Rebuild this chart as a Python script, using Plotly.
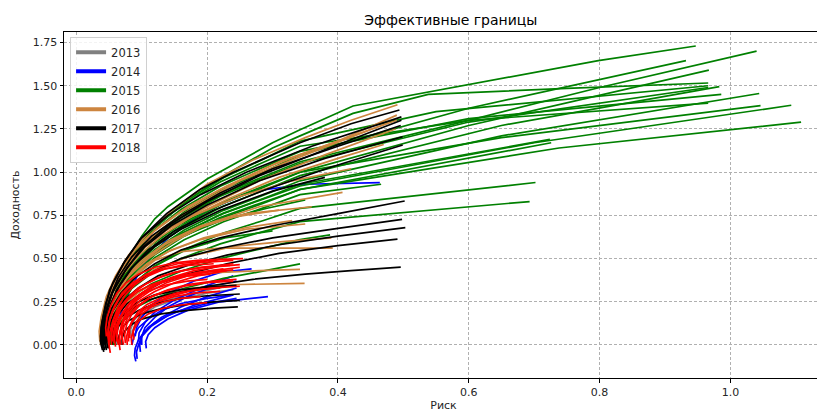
import plotly.graph_objects as go

years = ["2013", "2014", "2015", "2016", "2017", "2018"]
colors = ["#808080", "#0000ff", "#008000", "#cd853f", "#000000", "#ff0000"]

# ---- 2013 (gray) ----
risk_2013 = [
    [0.088, 0.086, 0.090, 0.100, 0.120, 0.150, 0.200, 0.240],
    [0.084, 0.083, 0.088, 0.100, 0.130, 0.180, 0.230],
]
ret_2013 = [
    [0.040, 0.080, 0.120, 0.170, 0.220, 0.260, 0.300, 0.320],
    [0.050, 0.090, 0.140, 0.200, 0.250, 0.300, 0.340],
]

# ---- 2014 (blue) ----
risk_2014 = [
    [0.091, 0.089, 0.090, 0.095, 0.105, 0.120, 0.150, 0.200, 0.245],
    [0.093, 0.092, 0.095, 0.100, 0.115, 0.140, 0.180, 0.240],
    [0.107, 0.106, 0.110, 0.120, 0.140, 0.170, 0.220, 0.293],
    [0.098, 0.097, 0.100, 0.110, 0.130, 0.160, 0.200, 0.245],
    [0.100, 0.100, 0.105, 0.120, 0.140, 0.170, 0.210, 0.245],
    [0.095, 0.096, 0.105, 0.120, 0.150, 0.190, 0.240],
    [0.090, 0.092, 0.100, 0.115, 0.140, 0.180, 0.220, 0.268],
    [0.060, 0.065, 0.080, 0.100, 0.140, 0.200, 0.270, 0.350, 0.464],
    [0.085, 0.088, 0.095, 0.110, 0.130, 0.160, 0.200, 0.240],
]
ret_2014 = [
    [-0.095, -0.060, -0.020, 0.030, 0.080, 0.130, 0.190, 0.240, 0.270],
    [-0.080, -0.040, 0.000, 0.050, 0.110, 0.170, 0.230, 0.290],
    [-0.020, 0.020, 0.060, 0.100, 0.150, 0.200, 0.250, 0.280],
    [-0.040, 0.000, 0.050, 0.100, 0.160, 0.220, 0.280, 0.330],
    [0.000, 0.050, 0.100, 0.160, 0.220, 0.280, 0.340, 0.370],
    [0.020, 0.070, 0.130, 0.190, 0.260, 0.330, 0.400],
    [0.050, 0.100, 0.160, 0.230, 0.300, 0.370, 0.420, 0.440],
    [0.050, 0.150, 0.300, 0.450, 0.620, 0.780, 0.890, 0.930, 0.940],
    [0.000, 0.050, 0.100, 0.150, 0.200, 0.240, 0.270, 0.290],
]

# ---- 2015 (green) ----
risk_2015 = [
    [0.050, 0.049, 0.054, 0.064, 0.080, 0.100, 0.120, 0.140, 0.200, 0.300, 0.342, 0.423, 0.798, 0.947],
    [0.052, 0.051, 0.056, 0.066, 0.082, 0.104, 0.130, 0.170, 0.230, 0.300, 0.342, 0.423, 0.538, 0.750, 0.966],
    [0.052, 0.050, 0.054, 0.065, 0.085, 0.115, 0.160, 0.220, 0.280, 0.342, 0.600, 0.800, 1.040],
    [0.058, 0.056, 0.060, 0.071, 0.090, 0.120, 0.165, 0.225, 0.285, 0.342, 0.600, 0.932],
    [0.052, 0.050, 0.054, 0.065, 0.085, 0.115, 0.160, 0.220, 0.280, 0.342, 0.600, 0.967],
    [0.058, 0.056, 0.060, 0.071, 0.090, 0.120, 0.165, 0.225, 0.285, 0.342, 0.550, 0.966],
    [0.052, 0.050, 0.054, 0.065, 0.085, 0.115, 0.160, 0.220, 0.280, 0.342, 0.600, 0.966],
    [0.058, 0.056, 0.060, 0.071, 0.090, 0.120, 0.165, 0.225, 0.285, 0.342, 0.650, 0.983],
    [0.052, 0.050, 0.054, 0.065, 0.085, 0.115, 0.160, 0.220, 0.280, 0.342, 0.600, 0.986],
    [0.058, 0.056, 0.060, 0.071, 0.090, 0.120, 0.165, 0.225, 0.285, 0.342, 0.650, 1.044],
    [0.058, 0.056, 0.060, 0.071, 0.090, 0.120, 0.165, 0.225, 0.285, 0.342, 0.650, 1.046],
    [0.052, 0.050, 0.054, 0.065, 0.085, 0.115, 0.160, 0.220, 0.280, 0.342, 0.700, 1.093],
    [0.058, 0.056, 0.060, 0.071, 0.090, 0.120, 0.165, 0.225, 0.285, 0.342, 0.738, 1.108],
    [0.052, 0.050, 0.054, 0.065, 0.085, 0.115, 0.160, 0.220, 0.280, 0.342, 0.600, 0.966],
    [0.058, 0.056, 0.060, 0.071, 0.090, 0.120, 0.165, 0.225, 0.285, 0.342, 0.724],
    [0.052, 0.050, 0.054, 0.065, 0.085, 0.115, 0.160, 0.220, 0.280, 0.342, 0.726],
    [0.058, 0.056, 0.060, 0.071, 0.090, 0.120, 0.165, 0.225, 0.285, 0.342, 0.702],
    [0.052, 0.050, 0.054, 0.065, 0.085, 0.115, 0.160, 0.220, 0.280, 0.342, 0.693],
    [0.058, 0.056, 0.060, 0.071, 0.090, 0.120, 0.165, 0.225, 0.285, 0.342, 0.466],
    [0.058, 0.056, 0.060, 0.071, 0.090, 0.120, 0.165, 0.225, 0.285, 0.342],
    [0.052, 0.050, 0.054, 0.065, 0.085, 0.115, 0.160, 0.220, 0.280, 0.342, 0.388],
    [0.060, 0.058, 0.062, 0.073, 0.092, 0.122, 0.167, 0.227, 0.300],
    [0.055, 0.053, 0.057, 0.068, 0.087, 0.117, 0.162, 0.222, 0.290, 0.350],
]
ret_2015 = [
    [0.000, 0.100, 0.220, 0.360, 0.500, 0.630, 0.730, 0.800, 0.960, 1.170, 1.245, 1.383, 1.645, 1.730],
    [0.000, 0.100, 0.210, 0.340, 0.470, 0.600, 0.710, 0.840, 0.990, 1.140, 1.210, 1.340, 1.450, 1.485, 1.516],
    [0.000, 0.085, 0.190, 0.339, 0.488, 0.615, 0.742, 0.869, 0.965, 1.060, 1.300, 1.490, 1.700],
    [0.000, 0.088, 0.198, 0.352, 0.506, 0.638, 0.770, 0.902, 1.000, 1.100, 1.370, 1.645],
    [0.000, 0.080, 0.180, 0.320, 0.460, 0.580, 0.700, 0.820, 0.910, 1.000, 1.270, 1.590],
    [0.000, 0.094, 0.212, 0.378, 0.543, 0.684, 0.826, 0.968, 1.074, 1.180, 1.350, 1.500],
    [0.000, 0.084, 0.189, 0.336, 0.483, 0.609, 0.735, 0.861, 0.956, 1.050, 1.290, 1.490],
    [0.000, 0.078, 0.176, 0.314, 0.451, 0.568, 0.686, 0.804, 0.892, 0.980, 1.270, 1.495],
    [0.000, 0.090, 0.200, 0.360, 0.515, 0.650, 0.784, 0.918, 1.019, 1.120, 1.310, 1.450],
    [0.000, 0.076, 0.171, 0.304, 0.437, 0.551, 0.665, 0.779, 0.865, 0.950, 1.210, 1.455],
    [0.000, 0.080, 0.180, 0.320, 0.460, 0.580, 0.700, 0.820, 0.910, 1.000, 1.200, 1.385],
    [0.000, 0.074, 0.166, 0.294, 0.423, 0.534, 0.644, 0.754, 0.837, 0.920, 1.170, 1.387],
    [0.000, 0.072, 0.162, 0.288, 0.414, 0.522, 0.630, 0.738, 0.819, 0.900, 1.140, 1.289],
    [0.000, 0.092, 0.207, 0.368, 0.529, 0.667, 0.805, 0.943, 1.047, 1.150, 1.300, 1.400],
    [0.000, 0.074, 0.167, 0.298, 0.428, 0.539, 0.651, 0.763, 0.846, 0.930, 1.190],
    [0.000, 0.072, 0.162, 0.288, 0.414, 0.522, 0.630, 0.738, 0.819, 0.900, 1.170],
    [0.000, 0.063, 0.142, 0.253, 0.363, 0.458, 0.553, 0.648, 0.719, 0.790, 0.940],
    [0.000, 0.057, 0.129, 0.228, 0.328, 0.414, 0.500, 0.585, 0.650, 0.714, 0.830],
    [0.000, 0.070, 0.157, 0.278, 0.400, 0.505, 0.609, 0.713, 0.792, 0.870, 0.930],
    [0.000, 0.038, 0.084, 0.150, 0.216, 0.272, 0.328, 0.385, 0.427, 0.469],
    [0.000, 0.049, 0.110, 0.195, 0.281, 0.354, 0.427, 0.500, 0.555, 0.610, 0.637],
    [0.000, 0.070, 0.150, 0.260, 0.370, 0.460, 0.550, 0.620, 0.660],
    [0.000, 0.075, 0.170, 0.300, 0.420, 0.530, 0.630, 0.720, 0.790, 0.840],
]

# ---- 2016 (peru) ----
risk_2016 = [
    [0.036, 0.035, 0.038, 0.046, 0.060, 0.080, 0.110, 0.150, 0.200, 0.270, 0.350, 0.420, 0.491],
    [0.037, 0.037, 0.041, 0.050, 0.065, 0.090, 0.120, 0.160, 0.220, 0.300, 0.400, 0.490],
    [0.040, 0.040, 0.045, 0.056, 0.075, 0.100, 0.140, 0.200, 0.280, 0.380, 0.488],
    [0.045, 0.045, 0.050, 0.062, 0.080, 0.110, 0.150, 0.200, 0.280, 0.407],
    [0.048, 0.048, 0.055, 0.068, 0.090, 0.120, 0.170, 0.240, 0.320, 0.390],
    [0.055, 0.056, 0.063, 0.078, 0.100, 0.130, 0.170, 0.220, 0.280, 0.342],
    [0.060, 0.060, 0.067, 0.080, 0.100, 0.130, 0.180, 0.250, 0.349],
    [0.038, 0.038, 0.043, 0.053, 0.070, 0.095, 0.130, 0.180, 0.250, 0.350, 0.480],
    [0.042, 0.042, 0.047, 0.058, 0.075, 0.100, 0.140, 0.190, 0.260, 0.360],
    [0.045, 0.045, 0.050, 0.062, 0.080, 0.105, 0.140, 0.190, 0.260, 0.350],
    [0.040, 0.040, 0.044, 0.054, 0.070, 0.095, 0.130, 0.180, 0.250, 0.330, 0.420],
    [0.039, 0.039, 0.043, 0.052, 0.068, 0.090, 0.125, 0.170, 0.230, 0.310, 0.400, 0.490],
    [0.050, 0.050, 0.056, 0.070, 0.090, 0.120, 0.160, 0.220, 0.300, 0.392],
    [0.043, 0.043, 0.048, 0.059, 0.076, 0.100, 0.135, 0.180, 0.240, 0.310],
    [0.047, 0.047, 0.052, 0.064, 0.082, 0.108, 0.145, 0.195, 0.260, 0.330],
    [0.041, 0.041, 0.046, 0.056, 0.072, 0.096, 0.130, 0.175, 0.235, 0.310, 0.400, 0.470],
]
ret_2016 = [
    [0.020, 0.080, 0.160, 0.280, 0.400, 0.520, 0.650, 0.790, 0.930, 1.070, 1.200, 1.300, 1.390],
    [0.000, 0.080, 0.170, 0.300, 0.420, 0.550, 0.660, 0.770, 0.900, 1.040, 1.180, 1.300],
    [0.020, 0.100, 0.200, 0.320, 0.440, 0.550, 0.670, 0.800, 0.950, 1.100, 1.250],
    [0.030, 0.100, 0.200, 0.300, 0.400, 0.500, 0.600, 0.700, 0.800, 0.883],
    [0.020, 0.100, 0.180, 0.270, 0.360, 0.440, 0.510, 0.570, 0.600, 0.620],
    [0.030, 0.100, 0.170, 0.250, 0.320, 0.370, 0.400, 0.420, 0.430, 0.438],
    [0.020, 0.080, 0.140, 0.200, 0.260, 0.300, 0.330, 0.350, 0.357],
    [0.030, 0.100, 0.200, 0.310, 0.430, 0.550, 0.670, 0.800, 0.950, 1.100, 1.290],
    [0.020, 0.100, 0.190, 0.290, 0.390, 0.490, 0.600, 0.690, 0.760, 0.800],
    [0.000, 0.080, 0.170, 0.270, 0.370, 0.460, 0.540, 0.610, 0.670, 0.700],
    [0.000, 0.090, 0.190, 0.300, 0.420, 0.540, 0.650, 0.750, 0.860, 0.950, 1.020],
    [0.010, 0.100, 0.200, 0.320, 0.440, 0.560, 0.680, 0.800, 0.920, 1.060, 1.180, 1.330],
    [0.050, 0.120, 0.200, 0.300, 0.400, 0.490, 0.540, 0.560, 0.560, 0.560],
    [0.010, 0.090, 0.180, 0.280, 0.380, 0.480, 0.580, 0.670, 0.740, 0.780],
    [0.020, 0.100, 0.190, 0.290, 0.380, 0.470, 0.550, 0.620, 0.680, 0.720],
    [0.000, 0.090, 0.190, 0.300, 0.410, 0.520, 0.630, 0.740, 0.850, 0.970, 1.080, 1.160],
]

# ---- 2017 (black) ----
risk_2017 = [
    [0.040, 0.037, 0.038, 0.042, 0.051, 0.072, 0.097, 0.138, 0.189, 0.240, 0.342, 0.420, 0.494],
    [0.042, 0.039, 0.040, 0.045, 0.055, 0.075, 0.100, 0.140, 0.200, 0.280, 0.380, 0.497],
    [0.041, 0.039, 0.041, 0.047, 0.058, 0.078, 0.105, 0.145, 0.200, 0.280, 0.380, 0.499],
    [0.043, 0.041, 0.043, 0.050, 0.062, 0.083, 0.110, 0.150, 0.210, 0.290, 0.390, 0.499],
    [0.039, 0.037, 0.039, 0.045, 0.056, 0.075, 0.100, 0.140, 0.190, 0.260, 0.360, 0.497],
    [0.045, 0.043, 0.046, 0.054, 0.068, 0.090, 0.120, 0.160, 0.220, 0.300, 0.400, 0.502],
    [0.046, 0.044, 0.047, 0.056, 0.070, 0.092, 0.120, 0.160, 0.220, 0.300, 0.400, 0.498],
    [0.048, 0.046, 0.049, 0.058, 0.073, 0.095, 0.125, 0.170, 0.230, 0.310, 0.400, 0.503],
    [0.050, 0.048, 0.052, 0.062, 0.078, 0.100, 0.130, 0.170, 0.230, 0.310, 0.400, 0.491],
    [0.055, 0.054, 0.058, 0.068, 0.085, 0.110, 0.150, 0.200, 0.270, 0.350, 0.420, 0.496],
    [0.070, 0.070, 0.074, 0.085, 0.100, 0.130, 0.170, 0.210, 0.247],
    [0.065, 0.065, 0.070, 0.080, 0.100, 0.130, 0.170, 0.210, 0.250],
    [0.060, 0.060, 0.065, 0.077, 0.095, 0.120, 0.160, 0.200, 0.250],
    [0.058, 0.058, 0.064, 0.076, 0.095, 0.120, 0.160, 0.200, 0.245],
    [0.041, 0.040, 0.043, 0.051, 0.064, 0.085, 0.115, 0.160, 0.220, 0.300, 0.400, 0.496],
    [0.044, 0.042, 0.045, 0.053, 0.067, 0.088, 0.120, 0.160, 0.220, 0.300, 0.380],
]
ret_2017 = [
    [-0.030, 0.020, 0.100, 0.180, 0.320, 0.470, 0.610, 0.760, 0.900, 1.000, 1.170, 1.280, 1.360],
    [-0.040, 0.010, 0.090, 0.180, 0.300, 0.430, 0.560, 0.690, 0.830, 0.980, 1.130, 1.300],
    [-0.020, 0.040, 0.120, 0.220, 0.330, 0.450, 0.570, 0.690, 0.810, 0.950, 1.080, 1.205],
    [-0.030, 0.030, 0.110, 0.210, 0.320, 0.440, 0.550, 0.660, 0.780, 0.900, 1.030, 1.157],
    [-0.010, 0.050, 0.130, 0.240, 0.360, 0.490, 0.620, 0.750, 0.870, 1.000, 1.150, 1.320],
    [-0.020, 0.040, 0.120, 0.210, 0.300, 0.390, 0.470, 0.550, 0.620, 0.690, 0.760, 0.833],
    [-0.030, 0.030, 0.110, 0.200, 0.280, 0.360, 0.430, 0.500, 0.560, 0.620, 0.675, 0.727],
    [-0.020, 0.030, 0.100, 0.180, 0.260, 0.330, 0.400, 0.460, 0.520, 0.580, 0.630, 0.679],
    [-0.020, 0.030, 0.100, 0.170, 0.240, 0.300, 0.360, 0.410, 0.470, 0.530, 0.575, 0.613],
    [0.000, 0.050, 0.100, 0.160, 0.210, 0.260, 0.300, 0.340, 0.380, 0.410, 0.430, 0.450],
    [0.000, 0.040, 0.080, 0.120, 0.150, 0.180, 0.200, 0.213, 0.220],
    [0.000, 0.050, 0.100, 0.140, 0.180, 0.210, 0.235, 0.250, 0.258],
    [0.000, 0.060, 0.110, 0.160, 0.200, 0.240, 0.270, 0.285, 0.295],
    [0.020, 0.080, 0.140, 0.200, 0.250, 0.290, 0.320, 0.335, 0.345],
    [0.000, 0.070, 0.160, 0.270, 0.390, 0.510, 0.630, 0.750, 0.880, 1.020, 1.150, 1.270],
    [0.000, 0.060, 0.140, 0.240, 0.350, 0.460, 0.570, 0.670, 0.780, 0.890, 0.970],
]

# ---- 2018 (red) ----
risk_2018 = [
    [0.050, 0.048, 0.050, 0.056, 0.066, 0.080, 0.100, 0.125, 0.155, 0.190, 0.220, 0.255],
    [0.052, 0.050, 0.051, 0.056, 0.065, 0.078, 0.095, 0.120, 0.150, 0.190, 0.240],
    [0.067, 0.065, 0.067, 0.073, 0.083, 0.098, 0.120, 0.150, 0.185, 0.230],
    [0.060, 0.058, 0.060, 0.066, 0.077, 0.092, 0.115, 0.145, 0.180, 0.220, 0.250],
    [0.072, 0.070, 0.073, 0.080, 0.092, 0.110, 0.135, 0.165, 0.200, 0.240],
    [0.080, 0.079, 0.083, 0.092, 0.106, 0.125, 0.150, 0.180, 0.220],
    [0.055, 0.054, 0.057, 0.064, 0.075, 0.090, 0.110, 0.135, 0.165, 0.200, 0.240],
    [0.064, 0.062, 0.064, 0.070, 0.080, 0.095, 0.115, 0.140, 0.170, 0.200],
    [0.075, 0.074, 0.077, 0.085, 0.097, 0.115, 0.140, 0.170, 0.210, 0.245],
    [0.088, 0.087, 0.091, 0.100, 0.115, 0.135, 0.160, 0.190],
    [0.046, 0.045, 0.047, 0.053, 0.062, 0.076, 0.095, 0.120, 0.150, 0.185, 0.220],
    [0.068, 0.066, 0.069, 0.076, 0.088, 0.105, 0.130, 0.160, 0.195, 0.240],
    [0.058, 0.057, 0.060, 0.067, 0.078, 0.094, 0.115, 0.140, 0.170, 0.205],
    [0.085, 0.084, 0.088, 0.096, 0.110, 0.130, 0.155, 0.185, 0.200],
    [0.070, 0.069, 0.072, 0.080, 0.093, 0.112, 0.138, 0.170, 0.210, 0.250],
    [0.050, 0.049, 0.052, 0.059, 0.070, 0.086, 0.108, 0.136, 0.170, 0.210],
    [0.062, 0.061, 0.064, 0.071, 0.083, 0.100, 0.122, 0.150, 0.185, 0.225],
    [0.078, 0.077, 0.080, 0.088, 0.100, 0.118, 0.142, 0.172, 0.210, 0.250],
    [0.054, 0.053, 0.056, 0.062, 0.072, 0.087, 0.107, 0.132, 0.162, 0.197, 0.235],
    [0.082, 0.081, 0.085, 0.094, 0.108, 0.128, 0.153, 0.183, 0.220],
]
ret_2018 = [
    [0.000, 0.060, 0.130, 0.200, 0.270, 0.330, 0.390, 0.440, 0.470, 0.485, 0.495, 0.500],
    [-0.046, 0.000, 0.070, 0.140, 0.210, 0.270, 0.330, 0.380, 0.420, 0.450, 0.470],
    [-0.030, 0.020, 0.080, 0.140, 0.200, 0.260, 0.310, 0.360, 0.400, 0.430],
    [-0.010, 0.040, 0.100, 0.160, 0.220, 0.280, 0.340, 0.390, 0.430, 0.455, 0.465],
    [0.000, 0.050, 0.110, 0.170, 0.220, 0.270, 0.310, 0.340, 0.360, 0.370],
    [0.020, 0.070, 0.120, 0.170, 0.210, 0.250, 0.280, 0.300, 0.310],
    [0.020, 0.080, 0.150, 0.220, 0.290, 0.350, 0.400, 0.440, 0.465, 0.480, 0.490],
    [0.000, 0.050, 0.110, 0.170, 0.230, 0.280, 0.320, 0.350, 0.370, 0.380],
    [0.010, 0.060, 0.120, 0.180, 0.230, 0.280, 0.320, 0.350, 0.370, 0.380],
    [0.030, 0.080, 0.130, 0.180, 0.220, 0.250, 0.270, 0.280],
    [0.050, 0.100, 0.160, 0.230, 0.300, 0.360, 0.410, 0.450, 0.475, 0.490, 0.495],
    [0.000, 0.050, 0.120, 0.190, 0.250, 0.310, 0.360, 0.400, 0.420, 0.435],
    [0.010, 0.070, 0.130, 0.200, 0.260, 0.310, 0.350, 0.380, 0.400, 0.410],
    [0.000, 0.040, 0.090, 0.140, 0.180, 0.210, 0.230, 0.240, 0.245],
    [0.030, 0.080, 0.140, 0.200, 0.260, 0.310, 0.360, 0.400, 0.430, 0.450],
    [0.030, 0.090, 0.160, 0.230, 0.300, 0.360, 0.410, 0.440, 0.460, 0.470],
    [0.020, 0.070, 0.130, 0.190, 0.250, 0.300, 0.350, 0.390, 0.420, 0.440],
    [0.000, 0.050, 0.100, 0.150, 0.200, 0.240, 0.280, 0.310, 0.330, 0.340],
    [0.000, 0.050, 0.110, 0.170, 0.240, 0.300, 0.355, 0.400, 0.430, 0.450, 0.460],
    [0.040, 0.090, 0.140, 0.190, 0.235, 0.270, 0.300, 0.320, 0.330],
]

risk_all = [risk_2013, risk_2014, risk_2015, risk_2016, risk_2017, risk_2018]
ret_all = [ret_2013, ret_2014, ret_2015, ret_2016, ret_2017, ret_2018]

fig = go.Figure()

for year, col, rs, rt in zip(years, colors, risk_all, ret_all):
    xs, ys = [], []
    for cx, cy in zip(rs, rt):
        xs += cx + [None]
        ys += cy + [None]
    fig.add_trace(go.Scatter(x=xs, y=ys, mode="lines", line=dict(color=col, width=1.7),
                             showlegend=False, hoverinfo="skip"))

for year, col in zip(years, colors):
    fig.add_trace(go.Scatter(x=[None], y=[None], mode="lines", name=year,
                             line=dict(color=col, width=4)))

font_family = "DejaVu Sans"
# The page body adds an 8px offset, so the figure is 8px smaller and margins shifted.
fig.update_layout(
    width=817, height=404,
    margin=dict(l=56, r=2, t=24, b=34),
    paper_bgcolor="white", plot_bgcolor="white",
    font=dict(family=font_family, size=11, color="#262626"),
    title=dict(text="Эффективные границы", x=0.542, xanchor="center", y=0.970, yanchor="middle",
               yref="container", font=dict(size=14, color="#000000")),
    legend=dict(x=0.008, y=0.986, xanchor="left", yanchor="top", bgcolor="rgba(255,255,255,0.85)",
                bordercolor="#d0d0d0", borderwidth=1, font=dict(size=11.5, color="#262626"),
                itemwidth=30, tracegroupgap=0),
    showlegend=True,
)
fig.update_xaxes(range=[-0.0188, 1.1415], dtick=0.2, tick0=0, tickformat=".1f",
                 showline=True, linecolor="#000000", linewidth=1, mirror=True,
                 ticks="outside", ticklen=3.5, tickcolor="#000000",
                 showgrid=True, gridcolor="#b0b0b0", gridwidth=0.8, griddash="3px,2px",
                 zeroline=False, automargin=False,
                 title=dict(text="Риск", standoff=3, font=dict(size=11)))
fig.update_yaxes(range=[-0.191, 1.811], dtick=0.25, tick0=0, tickformat=".2f",
                 showline=True, linecolor="#000000", linewidth=1, mirror=True,
                 ticks="outside", ticklen=3.5, tickcolor="#000000",
                 showgrid=True, gridcolor="#b0b0b0", gridwidth=0.8, griddash="3px,2px",
                 zeroline=False, automargin=False,
                 title=dict(text="Доходность", standoff=10, font=dict(size=11)))

fig.write_html("out.html")
